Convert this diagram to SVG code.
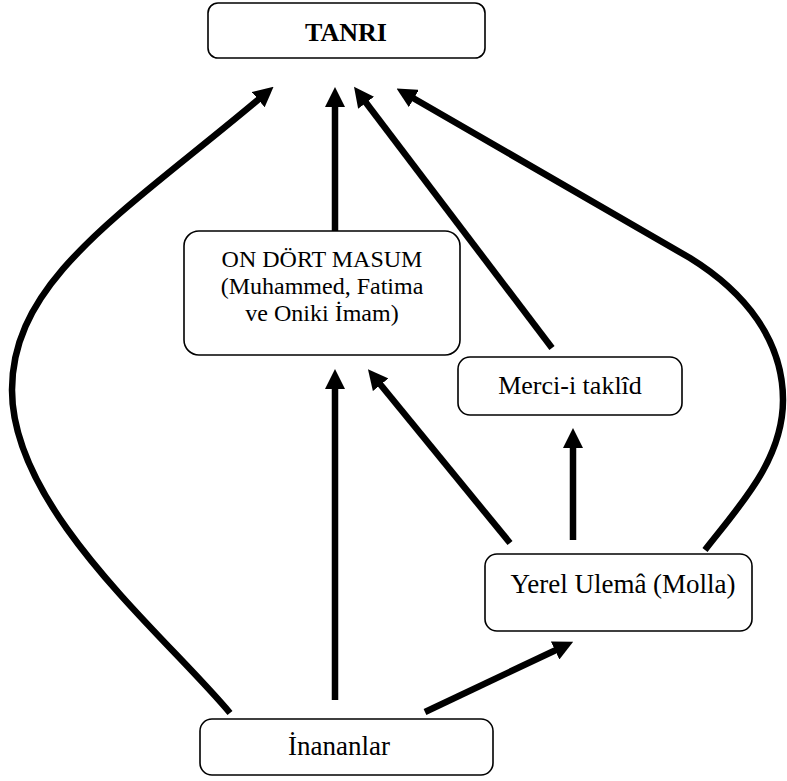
<svg xmlns="http://www.w3.org/2000/svg" width="787" height="781" viewBox="0 0 787 781">
<style>
.box{fill:#fff;stroke:#000;stroke-width:1.6}
.t{font-family:"Liberation Serif","Times New Roman",serif;fill:#000;text-anchor:middle}
.c{fill:none;stroke:#000;stroke-width:6.5;marker-end:url(#ah)}
</style>
<defs>
<marker id="ah" markerUnits="userSpaceOnUse" markerWidth="20" markerHeight="20" refX="1" refY="10" orient="auto">
<path d="M0,0 L20,10 L0,20 z" fill="#000"/>
</marker>
</defs>
<g id="connectors">
<path class="c" d="M230,713 C165,635 12,510 12,390 C12,280 122,214 259,99"/>
<path class="c" d="M335,231 L335,106"/>
<path class="c" d="M552,348 L365.5,102"/>
<path class="c" d="M705,550 C740,505 783,460 783,400 C783,340 745,292 690,258 L413,98"/>
<path class="c" d="M335,700 L335,388"/>
<path class="c" d="M510,543 L380,384"/>
<path class="c" d="M573,540 L573,447"/>
<path class="c" d="M425,712 L556,650"/>
</g>
<g id="tanri">
<rect class="box" x="208" y="3" width="277" height="55" rx="10"/>
<text class="t" x="346" y="41" font-size="26" font-weight="bold">TANRI</text>
</g>
<g id="masum">
<rect class="box" x="184" y="231" width="276" height="124" rx="15"/>
<text class="t" x="322" y="267" font-size="24">ON DÖRT MASUM</text>
<text class="t" x="322" y="294" font-size="24">(Muhammed, Fatima</text>
<text class="t" x="322" y="321" font-size="24">ve Oniki İmam)</text>
</g>
<g id="merci">
<rect class="box" x="458" y="357" width="224" height="58" rx="12"/>
<text class="t" x="570" y="394" font-size="26">Merci-i taklîd</text>
</g>
<g id="yerel">
<rect class="box" x="485" y="554" width="267" height="77" rx="12"/>
<text class="t" x="623" y="593" font-size="27">Yerel Ulemâ (Molla)</text>
</g>
<g id="inananlar">
<rect class="box" x="200" y="719" width="293" height="56" rx="12"/>
<text class="t" x="339" y="755" font-size="27">İnananlar</text>
</g>
</svg>
